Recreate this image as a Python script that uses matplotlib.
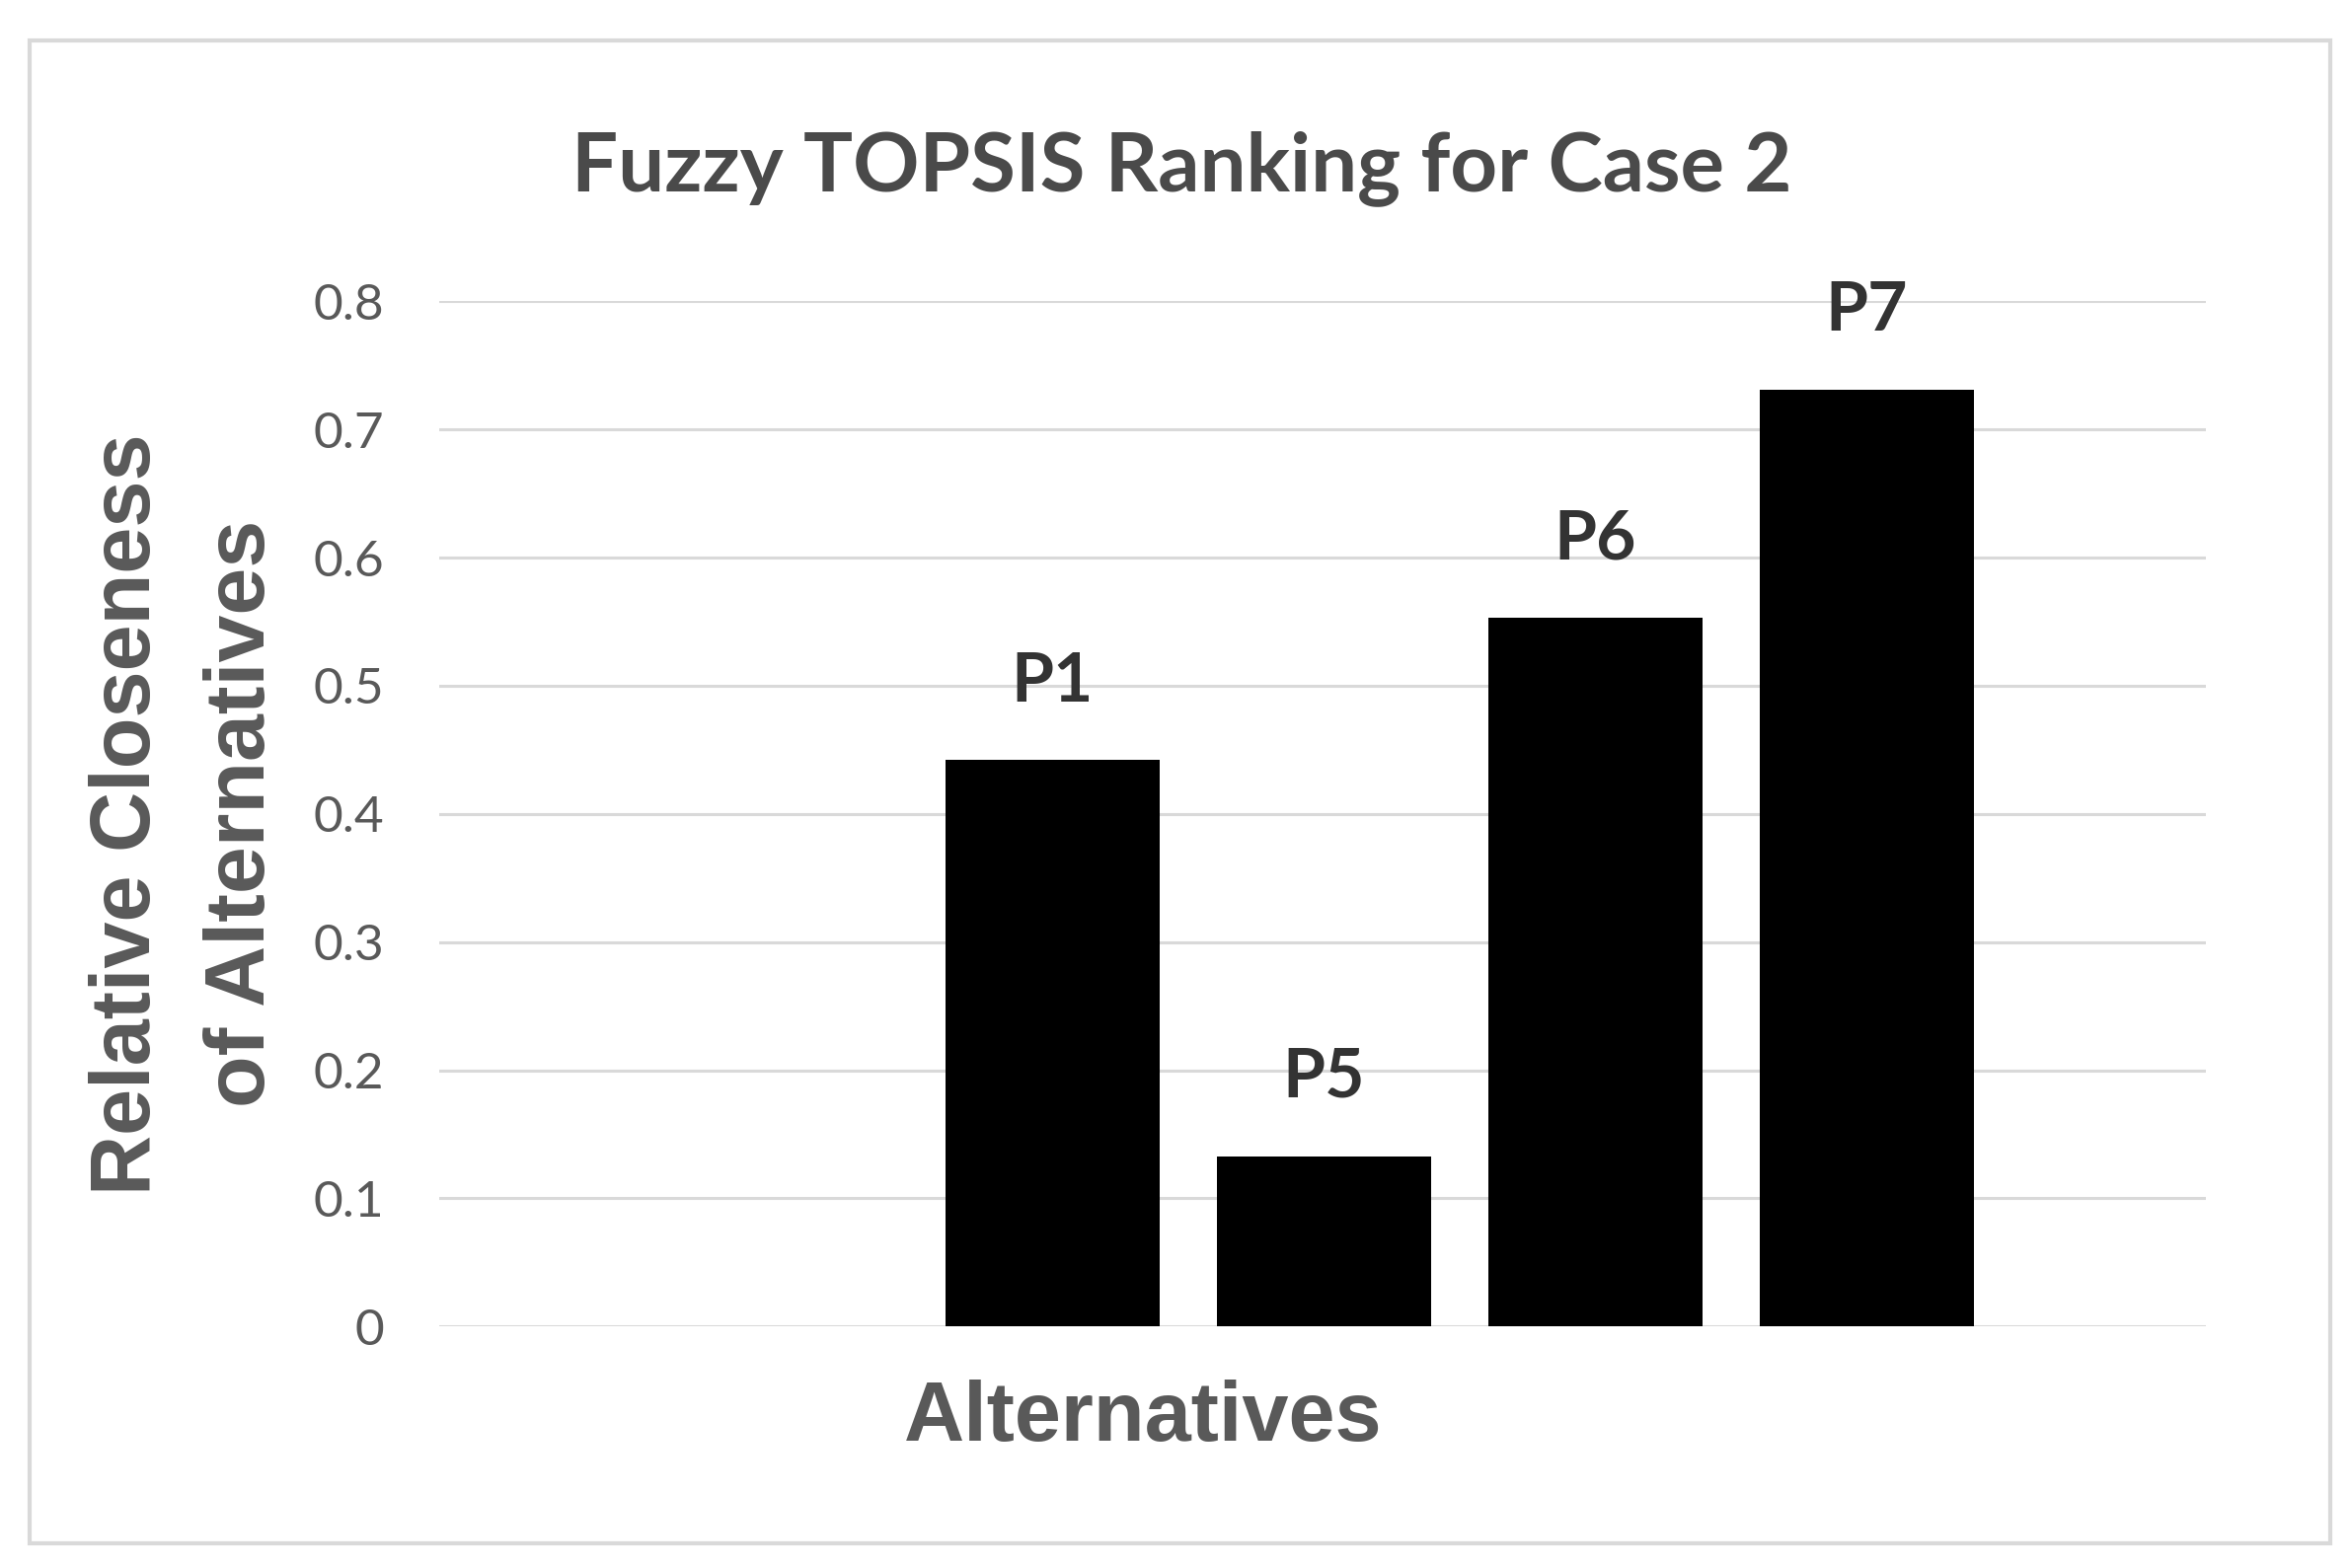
import matplotlib.pyplot as plt
from matplotlib.patches import Rectangle

# data
alternatives = ["P1", "P5", "P6", "P7"]
closeness = [0.442, 0.133, 0.553, 0.731]
y_ticks = [0, 0.1, 0.2, 0.3, 0.4, 0.5, 0.6, 0.7, 0.8]
y_tick_labels = ["0", "0.1", "0.2", "0.3", "0.4", "0.5", "0.6", "0.7", "0.8"]

plt.rcParams['font.family'] = ['Lato', 'DejaVu Sans']
grey = "#595959"
bold_sans = ['Liberation Sans', 'DejaVu Sans']

fig = plt.figure(figsize=(23.81, 15.89), dpi=100)

# outer chart border
fig.patches.append(Rectangle((0.0126, 0.016), 0.9792, 0.958, transform=fig.transFigure,
                             fill=False, edgecolor="#d9d9d9", linewidth=3))

ax = fig.add_axes([0.1869, 0.154, 0.7519, 0.6538])
x = list(range(len(alternatives)))
ax.bar(x, closeness, width=0.79, color="black", zorder=3)

# labels above bars
for xi, v, name in zip(x, closeness, alternatives):
    ax.annotate(name, (xi, v), xytext=(0, 43), textcoords="offset points",
                ha="center", va="baseline", fontsize=50, fontweight="bold", color="#333333")

ax.set_xlim(-2.26, 4.25)
ax.set_ylim(0, 0.8)
ax.set_yticks(y_ticks)
ax.set_yticklabels(y_tick_labels)
ax.set_xticks([])
ax.tick_params(axis="y", length=0, pad=40, labelsize=37, labelcolor=grey)
ax.grid(axis="y", color="#d9d9d9", linewidth=2.2, zorder=0)
for s in ax.spines.values():
    s.set_visible(False)

fig.text(0.503, 0.8785, "Fuzzy TOPSIS Ranking for Case 2", ha="center", va="baseline",
         fontsize=60, fontweight="bold", color="#4a4a4a")
fig.text(0.4863, 0.0812, "Alternatives", ha="center", va="baseline",
         fontsize=61, fontweight="bold", color=grey, family=bold_sans)
fig.text(0.0640, 0.481, "Relative Closeness", ha="center", va="baseline", rotation=90,
         rotation_mode="anchor", fontsize=61, fontweight="bold", color=grey, family=bold_sans)
fig.text(0.1125, 0.481, "of Alternatives", ha="center", va="baseline", rotation=90,
         rotation_mode="anchor", fontsize=62, fontweight="bold", color=grey, family=bold_sans)

fig.savefig("out.png", dpi=100, facecolor="white")
